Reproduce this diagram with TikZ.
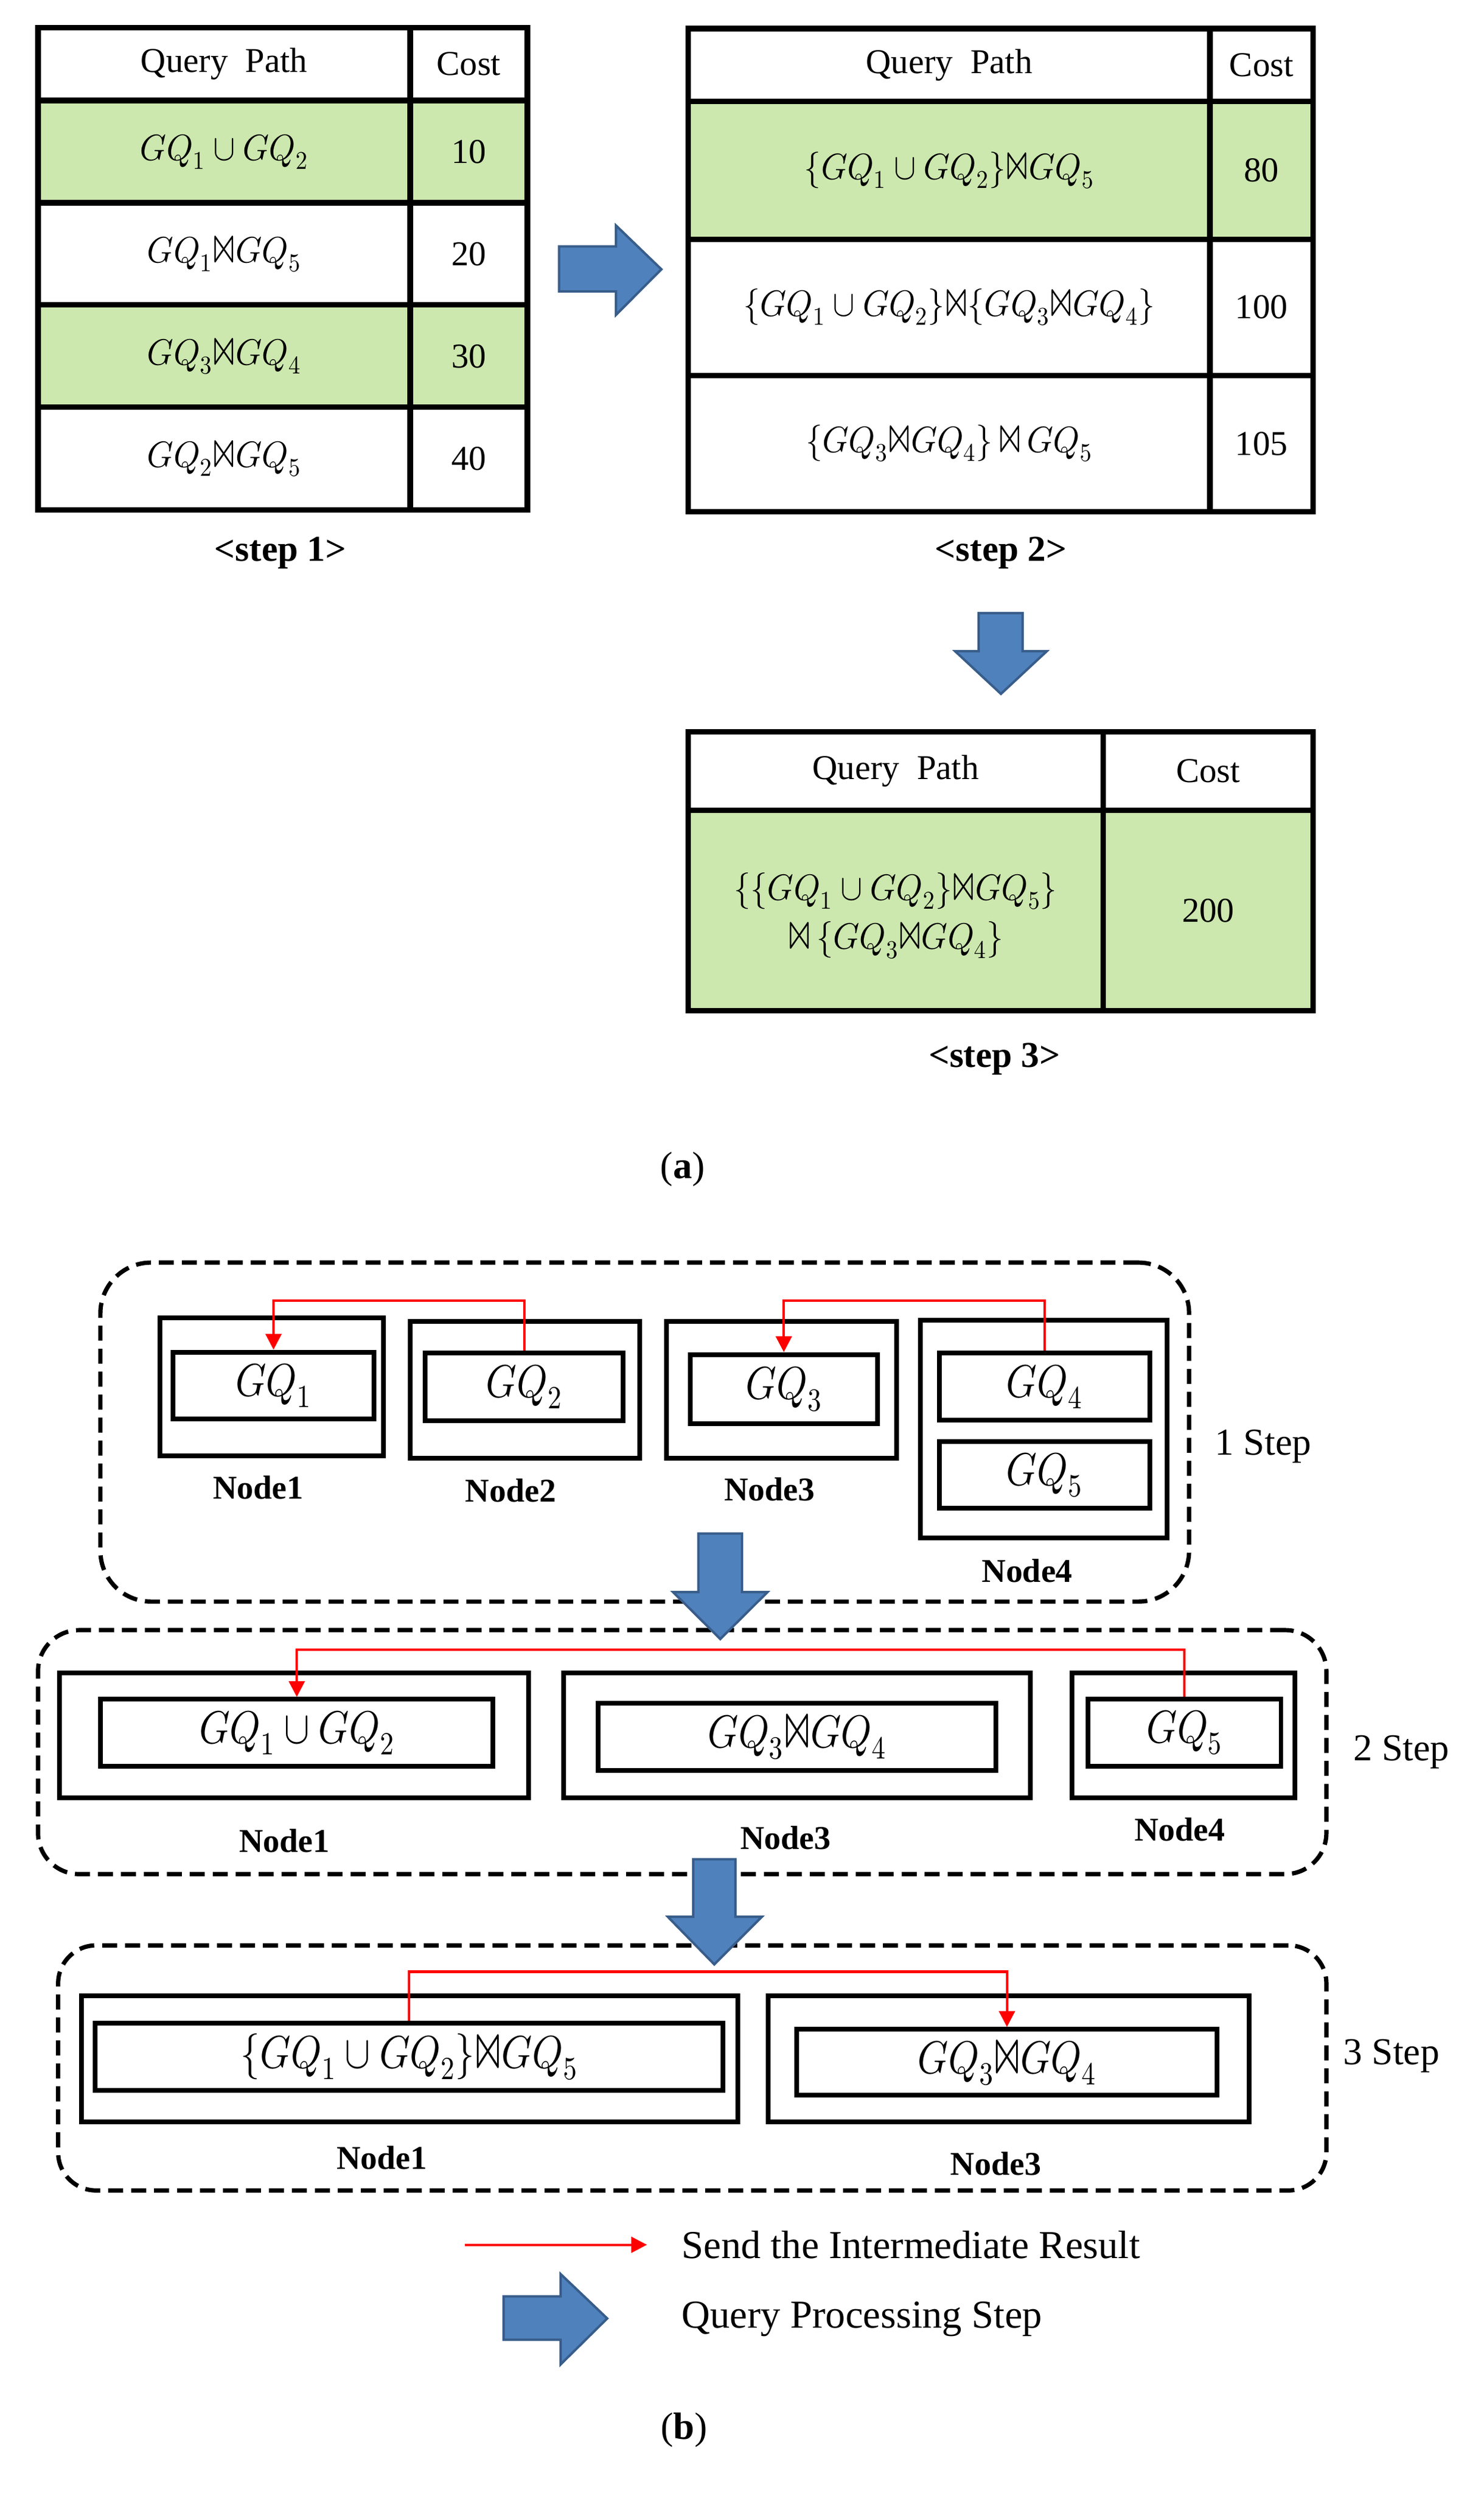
\documentclass[tikz,border=0pt]{standalone}
\usepackage{graphicx}
\usepackage{fontspec}
\usepackage{unicode-math}
\setmainfont{Liberation Serif}
\setmathfont{Latin Modern Math}
\usetikzlibrary{arrows.meta,fit}
\definecolor{rowgreen}{RGB}{204,232,174}
\definecolor{arrowblue}{RGB}{79,129,189}
\definecolor{arrowedge}{RGB}{56,93,138}
\newcommand{\bwt}{\mathord{\scalebox{1.1}[1.45]{$\bowtie$}}}
\newcommand{\tbm}[1]{\scalebox{0.92}[1]{$#1$}}
\newcommand{\bxm}[1]{\scalebox{0.85}[1]{$#1$}}
\tikzset{
  tline/.style={line width=3.5pt, line cap=rect},
  tabtxt/.style={font=\fontsize{22}{26}\selectfont, inner sep=0pt},
  tabmath/.style={font=\fontsize{23}{31}\selectfont, inner sep=0pt, align=center},
  steplbl/.style={font=\fontsize{23}{27}\selectfont\bfseries, inner sep=0pt},
  obox/.style={draw, line width=3pt, inner sep=0pt},
  ibox/.style={draw, line width=3pt, inner sep=0pt},
  boxmath/.style={font=\fontsize{29}{34}\selectfont, inner sep=0pt},
  nlbl/.style={font=\fontsize{21}{25}\selectfont\bfseries, inner sep=0pt},
  grp/.style={draw, line width=2.7pt, dash pattern=on 9.5pt off 5pt, inner sep=0pt},
  sidelbl/.style={font=\fontsize{24}{28}\selectfont, inner sep=0pt},
  sendline/.style={draw=red, line width=1.6pt, -{Triangle[length=10pt,width=10pt]}},
  blockarrow/.style={fill=arrowblue, draw=arrowedge, line width=1.5pt, line join=miter},
  legtxt/.style={font=\fontsize{25}{30}\selectfont, anchor=west, inner sep=0pt},
  sublbl/.style={font=\fontsize{24}{28}\selectfont, inner sep=0pt}
}
\begin{document}
\begin{tikzpicture}[x=1pt,y=-1pt]
\fill[white] (0,0) rectangle (937,1573.7);
\useasboundingbox (0,0) rectangle (937,1573.7);

% ---------------- (a) table step 1
\fill[rowgreen] (24,63.5) rectangle (333,128);
\fill[rowgreen] (24,192.5) rectangle (333,257);
\draw[tline] (24,17.5) rectangle (333,322);
\draw[tline] (24,63.5) -- (333,63.5);
\draw[tline] (24,128) -- (333,128);
\draw[tline] (24,192.5) -- (333,192.5);
\draw[tline] (24,257) -- (333,257);
\draw[tline] (259,17.5) -- (259,322);
\node[tabtxt] (a1h) at (141.5,40.5) {Query\hspace{0.5em}Path};
\node[tabtxt] (a1c) at (296,40.5) {Cost};
\node[tabmath] (a1r1) at (141.5,95.8) {\tbm{GQ_1 \cup GQ_2}};
\node[tabtxt] (a1c1) at (296,95.8) {10};
\node[tabmath] (a1r2) at (141.5,160.3) {\tbm{GQ_1\bwt GQ_5}};
\node[tabtxt] (a1c2) at (296,160.3) {20};
\node[tabmath] (a1r3) at (141.5,224.8) {\tbm{GQ_3\bwt GQ_4}};
\node[tabtxt] (a1c3) at (296,224.8) {30};
\node[tabmath] (a1r4) at (141.5,289.5) {\tbm{GQ_2\bwt GQ_5}};
\node[tabtxt] (a1c4) at (296,289.5) {40};
\node[steplbl] (s1) at (177,349) {<step 1>};

% right block arrow
\draw[blockarrow] (353,155.6) -- (389,155.6) -- (389,142.4) -- (417.6,170) -- (389,198.7) -- (389,184) -- (353,184) -- cycle;

% ---------------- table step 2
\fill[rowgreen] (434.5,64) rectangle (829,151);
\draw[tline] (434.5,18) rectangle (829,323);
\draw[tline] (434.5,64) -- (829,64);
\draw[tline] (434.5,151) -- (829,151);
\draw[tline] (434.5,237) -- (829,237);
\draw[tline] (764,18) -- (764,323);
\node[tabtxt] (a2h) at (599.3,41) {Query\hspace{0.5em}Path};
\node[tabtxt] (a2c) at (796.5,41) {Cost};
\node[tabmath] (a2r1) at (599.3,107.5) {\tbm{\{GQ_1 \cup GQ_2\}\bwt GQ_5}};
\node[tabtxt] (a2c1) at (796.5,107.5) {80};
\node[tabmath] (a2r2) at (599.3,194) {\tbm{\{GQ_1 \cup GQ_2\}\bwt\{GQ_3\bwt GQ_4\}}};
\node[tabtxt] (a2c2) at (796.5,194) {100};
\node[tabmath] (a2r3) at (599.3,280) {\tbm{\{GQ_3\bwt GQ_4\}\,\bwt\,GQ_5}};
\node[tabtxt] (a2c3) at (796.5,280) {105};
\node[steplbl] (s2) at (632,349) {<step 2>};

% down block arrow
\draw[blockarrow] (618,387) -- (645.6,387) -- (645.6,411) -- (661,411) -- (632,438) -- (603,411) -- (618,411) -- cycle;

% ---------------- table step 3
\fill[rowgreen] (434.5,511.5) rectangle (829,638);
\draw[tline] (434.5,462) rectangle (829,638);
\draw[tline] (434.5,511.5) -- (829,511.5);
\draw[tline] (696.5,462) -- (696.5,638);
\node[tabtxt] (a3h) at (565.5,486.8) {Query\hspace{0.5em}Path};
\node[tabtxt] (a3c) at (762.8,486.8) {Cost};
\node[tabmath] (a3r1) at (565.5,578) {\tbm{\{\{GQ_1 \cup GQ_2\}\bwt GQ_5\}}\\\tbm{\bwt\,\{GQ_3\bwt GQ_4\}}};
\node[tabtxt] (a3c1) at (762.8,575) {200};
\node[steplbl] (s3) at (628,668.5) {<step 3>};

\node[sublbl] (suba) at (431,738) {(\textbf{a})};

% ---------------- (b) step 1
\node[grp, rounded corners=32pt, fit={(63.4,797) (750.8,1011)}] (g1) {};
\node[obox, fit={(101,832) (242,919)}] (b1n1) {};
\node[ibox, fit={(109.4,853.5) (236,895.8)}] (gq1) {};
\node[boxmath] (gq1t) at (gq1.center) {\bxm{GQ_1}};
\node[nlbl] (l1n1) at (163,939) {Node1};
\node[obox, fit={(259,834) (404,920.5)}] (b1n2) {};
\node[ibox, fit={(268.5,854) (393.5,897)}] (gq2) {};
\node[boxmath] (gq2t) at (gq2.center) {\bxm{GQ_2}};
\node[nlbl] (l1n2) at (322.5,941) {Node2};
\node[obox, fit={(421,834) (566,920.5)}] (b1n3) {};
\node[ibox, fit={(435.8,855) (554,898.8)}] (gq3) {};
\node[boxmath] (gq3t) at (gq3.center) {\bxm{GQ_3}};
\node[nlbl] (l1n3) at (486,940) {Node3};
\node[obox, fit={(581,833.5) (737,970.7)}] (b1n4) {};
\node[ibox, fit={(593,854) (726,896.5)}] (gq4) {};
\node[boxmath] (gq4t) at (gq4.center) {\bxm{GQ_4}};
\node[ibox, fit={(593,910) (726,952)}] (gq5) {};
\node[boxmath] (gq5t) at (gq5.center) {\bxm{GQ_5}};
\node[nlbl] (l1n4) at (648.6,991.6) {Node4};
\node[sidelbl] (st1) at (797.6,913) {1 Step};
\coordinate (r1) at (0,821);
\draw[sendline] (gq2.north) -- (gq2.north |- r1) -| (gq1.north);
\draw[sendline] (gq4.north) -- (gq4.north |- r1) -| (gq3.north);

% ---------------- step 2
\node[grp, rounded corners=26pt, fit={(24,1029) (837.5,1183)}] (g2) {};
\node[obox, fit={(37.4,1056) (333.8,1135)}] (b2n1) {};
\node[ibox, fit={(63.5,1072.7) (311.3,1115)}] (u12) {};
\node[boxmath] (u12t) at (u12.center) {\bxm{GQ_1 \cup GQ_2}};
\node[nlbl] (l2n1) at (179.6,1162) {Node1};
\node[obox, fit={(356,1056) (650.5,1135)}] (b2n3) {};
\node[ibox, fit={(377.7,1075) (628.8,1117.6)}] (j34) {};
\node[boxmath] (j34t) at (j34.center) {\bxm{GQ_3\bwt GQ_4}};
\node[nlbl] (l2n3) at (496,1160) {Node3};
\node[obox, fit={(677,1056) (817.5,1135)}] (b2n4) {};
\node[ibox, fit={(687,1072.7) (808.8,1115)}] (gq5b) {};
\node[boxmath] (gq5bt) at (gq5b.center) {\bxm{GQ_5}};
\node[nlbl] (l2n4) at (745,1155) {Node4};
\node[sidelbl] (st2) at (884.8,1106) {2 Step};
\coordinate (r2) at (0,1041.5);
\draw[sendline] (gq5b.north) -- (gq5b.north |- r2) -| (u12.north);

% ---------------- step 3
\node[grp, rounded corners=24pt, fit={(36.7,1228) (837.5,1382.7)}] (g3) {};
\node[obox, fit={(51.3,1260) (466,1339.6)}] (b3n1) {};
\node[ibox, fit={(60,1277) (456.6,1319.7)}] (u125) {};
\node[boxmath] (u125t) at (u125.center) {\bxm{\{GQ_1 \cup GQ_2\}\bwt GQ_5}};
\node[nlbl] (l3n1) at (241.2,1362) {Node1};
\node[obox, fit={(485.2,1260) (788.7,1339.6)}] (b3n3) {};
\node[ibox, fit={(503.2,1281) (768.4,1322.7)}] (j34b) {};
\node[boxmath] (j34bt) at (j34b.center) {\bxm{GQ_3\bwt GQ_4}};
\node[nlbl] (l3n3) at (628.8,1366) {Node3};
\node[sidelbl] (st3) at (878.6,1298) {3 Step};
\coordinate (r3) at (0,1244.6);
\draw[sendline] (u125.north) -- (u125.north |- r3) -| (j34b.north);

% block arrows between steps
\draw[blockarrow] (441,968) -- (468.5,968) -- (468.5,1005) -- (484.6,1005) -- (454.8,1034.6) -- (425,1005) -- (441,1005) -- cycle;
\draw[blockarrow] (437.7,1173.6) -- (464.3,1173.6) -- (464.3,1210) -- (481,1210) -- (451,1240) -- (421.7,1210) -- (437.7,1210) -- cycle;

% ---------------- legend
\coordinate (la) at (293.5,1417);
\coordinate (lb) at (408.5,1417);
\draw[sendline] (la) -- (lb);
\node[legtxt] (lt1) at (430.2,1417) {Send the Intermediate Result};
\draw[blockarrow] (318,1449.6) -- (354,1449.6) -- (354,1435.5) -- (383.4,1463.5) -- (354,1492.5) -- (354,1477) -- (318,1477) -- cycle;
\node[legtxt] (lt2) at (430.2,1464) {Query Processing Step};

\node[sublbl] (subb) at (432,1534) {(\textbf{b})};
\end{tikzpicture}
\end{document}
